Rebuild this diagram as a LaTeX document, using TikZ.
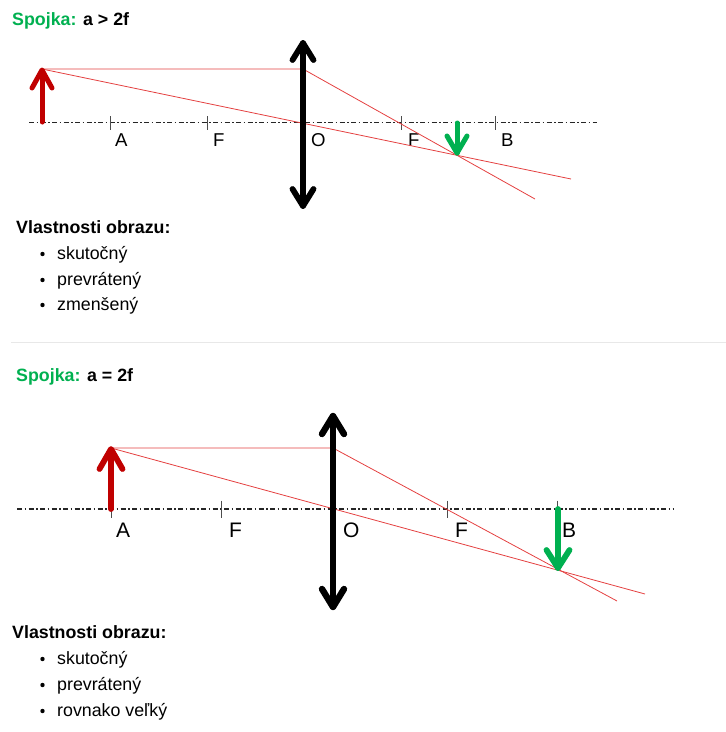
\documentclass[tikz,border=0pt]{standalone}
\usepackage{fontspec}
\setmainfont{Liberation Sans}
\definecolor{objred}{RGB}{192,0,0}
\definecolor{imggreen}{RGB}{0,176,80}
\definecolor{rayred}{RGB}{228,64,64}
\definecolor{sepgray}{RGB}{232,232,232}
\begin{document}
\begin{tikzpicture}[x=1pt,y=-1pt,
  axisline/.style={line width=1.6pt, draw=black!85, dash pattern=on 5pt off 2.5pt on 1.5pt off 2.5pt},
  tickline/.style={line width=0.8pt, draw=black!70},
  ray/.style={line width=0.8pt, draw=rayred},
  lensline/.style={line width=5.8pt, draw=black, line cap=round, line join=round},
  objline/.style={draw=objred, line cap=round, line join=round},
  imgline/.style={draw=imggreen, line cap=round, line join=round},
  txt/.style={anchor=base west, inner sep=0pt, font=\fontsize{17.8}{20}\selectfont},
  btxt/.style={txt, font=\fontsize{17.8}{20}\selectfont\bfseries},
  lblA/.style={anchor=base west, inner sep=0pt, font=\fontsize{18.6}{20}\selectfont},
  lblB/.style={anchor=base west, inner sep=0pt, font=\fontsize{21}{24}\selectfont},
  dot/.style={fill=black, draw=none}
]
\useasboundingbox (0,0) rectangle (726,732);

% ---------------- top diagram ----------------
\node[btxt] (t1) at (12,25) {\textcolor{imggreen}{Spojka:} a > 2f};

\coordinate (ax1s) at (29,122.5);
\coordinate (ax1e) at (597,122.5);
\draw[axisline] (ax1s) -- (ax1e);
\foreach \x/\n in {110/tA,207/tF,401/tFF,495/tB}{
  \coordinate (\n1) at (\x,116); \coordinate (\n2) at (\x,129.5);
  \draw[tickline] (\n1) -- (\n2);
}
\node[lblA] (lA1) at (115,146) {A};
\node[lblA] (lF1) at (213,146) {F};
\node[lblA] (lO1) at (311,146) {O};
\node[lblA] (lFF1) at (408,146) {F};
\node[lblA] (lB1) at (501,146) {B};

% rays
\coordinate (ob1) at (42,69);
\coordinate (ln1) at (303,69);
\coordinate (re1) at (535,199);
\coordinate (ce1) at (571,179);
\draw[ray] (ob1) -- (ln1) -- (re1);
\draw[ray] (ob1) -- (ce1);

% lens
\coordinate (lt1) at (303,43);
\coordinate (lb1) at (303,206);
\draw[lensline] (lt1) -- (lb1);
\draw[lensline] (292.5,60) -- (lt1) -- (313.5,60);
\draw[lensline] (292.5,189) -- (lb1) -- (313.5,189);

% object
\coordinate (obb1) at (42,122);
\draw[objline, line width=5pt] (obb1) -- (42,71);
\draw[objline, line width=5pt] (32,88) -- (42,70) -- (52,88);

% image
\coordinate (im1) at (457,123);
\coordinate (imt1) at (457,153);
\draw[imgline, line width=5pt] (im1) -- (imt1);
\draw[imgline, line width=5pt] (447,136) -- (imt1) -- (467,136);

% properties
\node[btxt] (v1) at (16,233) {Vlastnosti obrazu:};
\foreach \yy/\t/\n in {259/skutočný/a,285/prevrátený/b,310/zmenšený/c}{
  \fill[dot] (42.5,\yy-5) circle (2.2);
  \node[txt] (p1\n) at (57,\yy) {\t};
}

% separator
\coordinate (s1) at (11,342);
\coordinate (s2) at (726,342);
\draw[sepgray, line width=1pt] (s1) -- (s2);

% ---------------- bottom diagram ----------------
\node[btxt] (t2) at (16,381) {\textcolor{imggreen}{Spojka:} a = 2f};

\coordinate (ax2s) at (17,509);
\coordinate (ax2e) at (673,509);
\draw[axisline] (ax2s) -- (ax2e);
\foreach \x/\n in {111/uA,221/uF,447/uFF,557/uB}{
  \coordinate (\n1) at (\x,500.5); \coordinate (\n2) at (\x,517.5);
  \draw[tickline] (\n1) -- (\n2);
}
\node[lblB] (lA2) at (116,537) {A};
\node[lblB] (lF2) at (229,537) {F};
\node[lblB] (lO2) at (343,537) {O};
\node[lblB] (lFF2) at (455,537) {F};
\node[lblB] (lB2) at (562,537) {B};

% rays
\coordinate (ob2) at (111,448);
\coordinate (ln2) at (333,448);
\coordinate (re2) at (617,601);
\coordinate (ce2) at (645,594);
\draw[ray] (ob2) -- (ln2) -- (re2);
\draw[ray] (ob2) -- (ce2);

% lens
\coordinate (lt2) at (333,416);
\coordinate (lb2) at (333,607);
\draw[lensline, line width=6.4pt] (lt2) -- (lb2);
\draw[lensline, line width=6.4pt] (322,434) -- (lt2) -- (344,434);
\draw[lensline, line width=6.4pt] (322,589) -- (lb2) -- (344,589);

% object
\coordinate (obb2) at (111,509);
\draw[objline, line width=5.8pt] (obb2) -- (111,451);
\draw[objline, line width=5.8pt] (99.5,469) -- (111,449) -- (122.5,469);

% image
\coordinate (im2) at (558,509);
\coordinate (imt2) at (558,568);
\draw[imgline, line width=5.8pt] (im2) -- (imt2);
\draw[imgline, line width=5.8pt] (546.5,550) -- (imt2) -- (569.5,550);

% properties
\node[btxt] (v2) at (12,638) {Vlastnosti obrazu:};
\foreach \yy/\t/\n in {664/skutočný/a,690/prevrátený/b,716/rovnako veľký/c}{
  \fill[dot] (42.5,\yy-5) circle (2.2);
  \node[txt] (p2\n) at (57,\yy) {\t};
}
\end{tikzpicture}
\end{document}
